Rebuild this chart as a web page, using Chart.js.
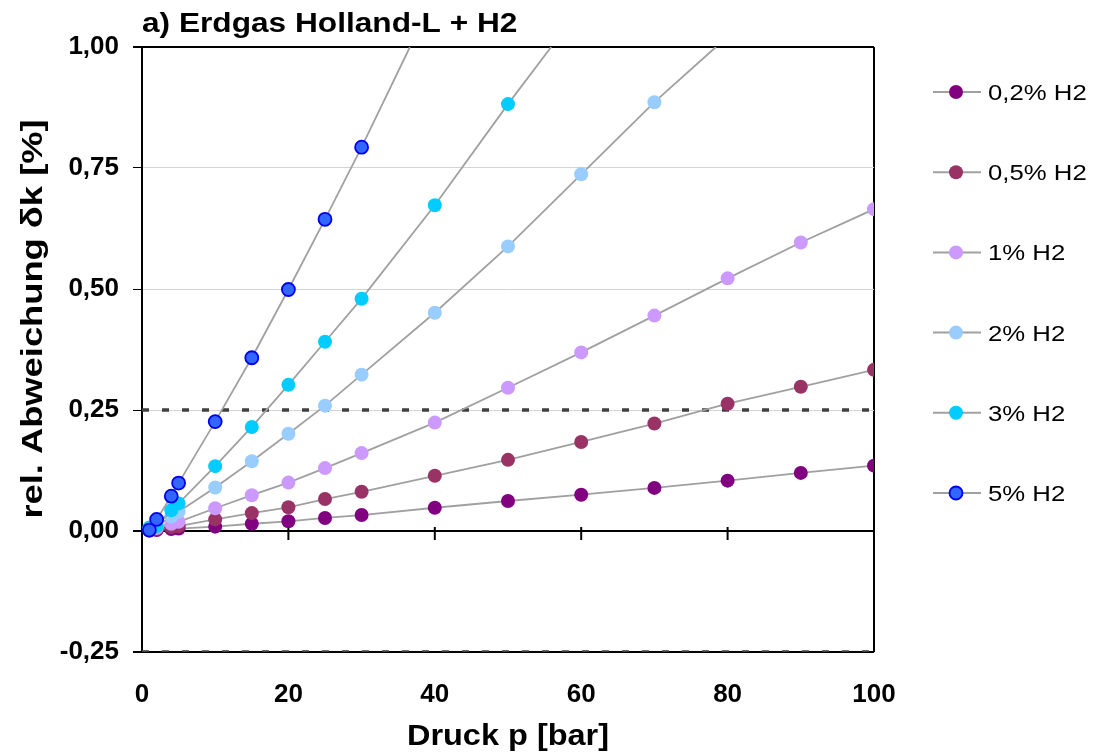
<!DOCTYPE html>
<html><head><meta charset="utf-8">
<script src="https://cdn.jsdelivr.net/npm/chart.js@4/dist/chart.umd.min.js"></script>
<style>html,body{margin:0;padding:0;background:#fff;overflow:hidden}canvas{display:block}</style>
</head><body>
<canvas id="c" width="1094" height="754"></canvas>
<script>
const chartTitle = 'a) Erdgas Holland-L + H2';
const xTitle = 'Druck p [bar]';
const yTitle = 'rel. Abweichung δk [%]';
const seriesNames  = ['0,2% H2','0,5% H2','1% H2','2% H2','3% H2','5% H2'];
const seriesColors = ['#800080','#993366','#cc99ff','#99ccff','#00ccff','#3366ff'];
const seriesEdges  = ['#800080','#993366','#cc99ff','#99ccff','#00ccff','#0000ee'];
const pressure = [1,2,4,5,10,15,20,25,30,40,50,60,70,80,90,100];
const dev02 = [0.001,0.002,0.004,0.005,0.009,0.015,0.020,0.027,0.033,0.048,0.062,0.075,0.089,0.104,0.120,0.135];
const dev05 = [0.002,0.004,0.008,0.010,0.024,0.037,0.049,0.066,0.081,0.114,0.147,0.184,0.222,0.263,0.298,0.333];
const dev1  = [0.003,0.006,0.015,0.019,0.047,0.074,0.100,0.130,0.161,0.224,0.296,0.369,0.445,0.522,0.596,0.665];
const dev2  = [0.005,0.011,0.030,0.040,0.090,0.144,0.201,0.259,0.323,0.451,0.588,0.737,0.886];
const dev3  = [0.007,0.010,0.043,0.057,0.134,0.215,0.302,0.391,0.480,0.673,0.882];
const dev5  = [0.002,0.024,0.072,0.099,0.226,0.358,0.499,0.644,0.793];
// where the curves leave the plot through the top edge: [pressure, deviation]
const exit2 = [78.4, 1.0];
const exit3 = [55.9, 1.0];
const exit5 = [36.6, 1.0];
const limitLevels = [0.25, -0.25];
const xTickValues = [0,20,40,60,80,100];
const yTickValues = [-0.25,0,0.25,0.5,0.75,1.0];

const FONT = "'Liberation Sans', Arial, sans-serif";
const allDev = [dev02, dev05, dev1, dev2, dev3, dev5];
const allExit = [null, null, null, exit2, exit3, exit5];

const datasets = [];
allDev.forEach((dev, i) => {
  const pts = dev.map((v, k) => ({x: pressure[k], y: v}));
  const n = pts.length;
  if (allExit[i]) pts.push({x: allExit[i][0], y: allExit[i][1]});
  datasets.push({
    label: seriesNames[i],
    data: pts,
    showLine: true,
    borderColor: '#a0a0a0',
    borderWidth: 1.8,
    backgroundColor: seriesColors[i],
    pointBackgroundColor: seriesColors[i],
    pointBorderColor: seriesEdges[i],
    pointBorderWidth: i === 5 ? 1.8 : 0,
    pointRadius: c => c.dataIndex < n ? (i === 5 ? 6.5 : 7) : 0,
    tension: 0,
    order: 5 - i
  });
});
limitLevels.forEach(v => {
  datasets.push({
    label: 'limit',
    data: [{x: 0, y: v}, {x: 100, y: v}],
    showLine: true,
    borderColor: '#404040',
    borderWidth: 3.5,
    borderDash: [7, 13],
    pointRadius: 0,
    order: 20
  });
});

function stretchedText(ctx, text, x, y, font, sx, align, rot) {
  ctx.save();
  ctx.translate(x, y);
  if (rot) ctx.rotate(rot);
  ctx.scale(sx, 1);
  ctx.font = font;
  ctx.fillStyle = '#000';
  ctx.textAlign = align;
  ctx.textBaseline = 'alphabetic';
  ctx.fillText(text, 0, 0);
  ctx.restore();
}

const deco = {
  id: 'deco',
  beforeDatasetsDraw(chart) {
    const ctx = chart.ctx, xs = chart.scales.x, ys = chart.scales.y;
    const y0 = ys.getPixelForValue(0);
    ctx.save();
    ctx.strokeStyle = '#000';
    ctx.lineWidth = 2;
    xTickValues.forEach(v => {
      const px = xs.getPixelForValue(v);
      ctx.beginPath(); ctx.moveTo(px, y0 - 4); ctx.lineTo(px, y0 + 9); ctx.stroke();
    });
    ctx.restore();
  },
  afterDraw(chart) {
    const ctx = chart.ctx, a = chart.chartArea;
    stretchedText(ctx, chartTitle, a.left, 32, 'bold 28px ' + FONT, 1.13, 'left');
    stretchedText(ctx, xTitle, (a.left + a.right) / 2, 745, 'bold 29px ' + FONT, 1.12, 'center');
    stretchedText(ctx, yTitle, 42, 319, 'bold 30px ' + FONT, 1.21, 'center', -Math.PI / 2);
    // legend
    seriesNames.forEach((name, i) => {
      const y = 92 + i * 80.2;
      ctx.save();
      ctx.strokeStyle = '#a0a0a0'; ctx.lineWidth = 2;
      ctx.beginPath(); ctx.moveTo(933, y); ctx.lineTo(981, y); ctx.stroke();
      ctx.beginPath(); ctx.arc(956, y, i === 5 ? 6.5 : 7, 0, Math.PI * 2);
      ctx.fillStyle = seriesColors[i]; ctx.fill();
      if (i === 5) { ctx.strokeStyle = seriesEdges[i]; ctx.lineWidth = 1.8; ctx.stroke(); }
      ctx.restore();
      stretchedText(ctx, name, 988, y + 8, '22px ' + FONT, 1.17, 'left');
    });
  }
};

const near = (a, b) => Math.abs(a - b) < 1e-6;

new Chart(document.getElementById('c'), {
  type: 'scatter',
  data: { datasets },
  options: {
    responsive: false,
    animation: false,
    events: [],
    layout: { padding: { left: 0, top: 47, right: 220, bottom: 0 } },
    plugins: { legend: { display: false }, title: { display: false }, tooltip: { enabled: false } },
    scales: {
      x: {
        type: 'linear', min: 0, max: 100,
        afterBuildTicks: s => { s.ticks = xTickValues.map(v => ({value: v})); },
        afterFit: s => { s.height = 102; },
        border: { display: false },
        grid: {
          drawTicks: false,
          color: c => near(c.tick.value, 100) ? '#000' : 'rgba(0,0,0,0)',
          lineWidth: 2
        },
        ticks: {
          padding: 27,
          color: '#000',
          font: { family: FONT, size: 26, weight: 'bold' },
          callback: v => String(v)
        }
      },
      y: {
        type: 'linear', min: -0.25, max: 1.0,
        afterBuildTicks: s => { s.ticks = yTickValues.map(v => ({value: v})); },
        afterFit: s => { s.width = 142; },
        border: { display: true, color: '#000', width: 2 },
        grid: {
          tickLength: 9,
          tickColor: '#000',
          color: c => (near(c.tick.value, 0) || near(c.tick.value, 1) || near(c.tick.value, -0.25)) ? '#000' : '#d4d4d4',
          lineWidth: c => (near(c.tick.value, 0) || near(c.tick.value, 1) || near(c.tick.value, -0.25)) ? 2 : 1
        },
        ticks: {
          padding: 14,
          color: '#000',
          font: { family: FONT, size: 26, weight: 'bold' },
          callback: v => v.toFixed(2).replace('.', ',')
        }
      }
    }
  },
  plugins: [deco]
});
</script>
</body></html>
